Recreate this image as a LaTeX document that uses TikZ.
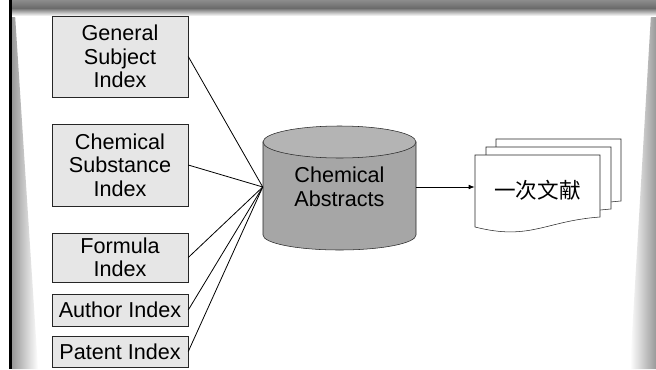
\documentclass[tikz,border=0pt]{standalone}
\usepackage{fontspec}
\setmainfont{Liberation Sans}
\newfontfamily\cjkfont{Noto Sans CJK SC}
\usepackage{xcolor}
\usepackage{tikz}
\usetikzlibrary{arrows.meta}
\newcommand\labelfont{\fontsize{16.2}{17.6}\selectfont}
\definecolor{boxgray}{HTML}{E6E6E6}
\definecolor{bodygray}{HTML}{A6A6A6}
\definecolor{topgray}{HTML}{B4B4B4}
\tikzstyle{indexbox} = [draw=black!85, fill=boxgray, rectangle,
inner sep=0pt, minimum width=102pt, align=center, font=\labelfont]
\tikzstyle{cylbody} = [draw=black!85, fill=bodygray]
\tikzstyle{cyltop} = [draw=black!85, fill=topgray]
\tikzstyle{paper} = [draw=black!85, fill=white]

\begin{document}
\begin{tikzpicture}[x=0.75pt, y=0.75pt]
        \useasboundingbox (0,0) rectangle (656,369);
        % slide frame
        \fill[white] (0,0) rectangle (656,369);
        \shade[left color=black!40, right color=white] (12,0) -- (38,0) -- (15,355) -- (12,355) -- cycle;
        \shade[left color=white, right color=black!40] (630,0) -- (656,0) -- (656,355) -- (651,355) -- cycle;
        \shade[top color=black!45, bottom color=black!58] (12,369) rectangle (656,361);
        \shade[top color=black!58, bottom color=white] (12,361) rectangle (656,353);
        \fill[black] (9,0) rectangle (12,369);
        % indexes
        \node[indexbox, minimum height=60.75pt] (gsi) at (120,312.5) {General\\Subject\\Index};
        \node[indexbox, minimum height=61.5pt] (css) at (120,204) {Chemical\\Substance\\Index};
        \node[indexbox, minimum height=36.75pt] (fi) at (120,111.5) {Formula\\Index};
        \node[indexbox, minimum height=24pt] (ai) at (120,59) {Author Index};
        \node[indexbox, minimum height=23.25pt] (pi) at (120,17.5) {Patent Index};
        % database
        \filldraw[cylbody] (263,227) -- (263,134) arc[start angle=180, end angle=360, x radius=76.5, y radius=15] -- (416,227) -- cycle;
        \filldraw[cyltop] (339.5,227) ellipse[x radius=76.5, y radius=16];
        \node[inner sep=0pt, minimum width=114.75pt, align=center, font=\labelfont] (ca) at (339.5,182) {Chemical\\Abstracts};
        % documents
        \foreach \dx/\dy in {21/16, 11/8, 0/0}
            \filldraw[paper] (475+\dx,214+\dy) -- (600+\dx,214+\dy) -- (600+\dx,152+\dy)
                .. controls (545+\dx,148+\dy) and (530+\dx,128+\dy) .. (475+\dx,142+\dy) -- cycle;
        \node[inner sep=0pt, minimum width=93.75pt, font=\labelfont\cjkfont] (doc) at (537.5,179) {一次文献};
        % connectors
        \foreach \n in {gsi,css,fi,ai,pi}
            \draw[line width=0.6pt] (\n.east) -- (ca.west);
        \draw[line width=0.6pt, -{Latex[length=4.5pt,width=3.5pt]}] (ca.east) -- (ca.east -| doc.west);
    \end{tikzpicture}
\end{document}
